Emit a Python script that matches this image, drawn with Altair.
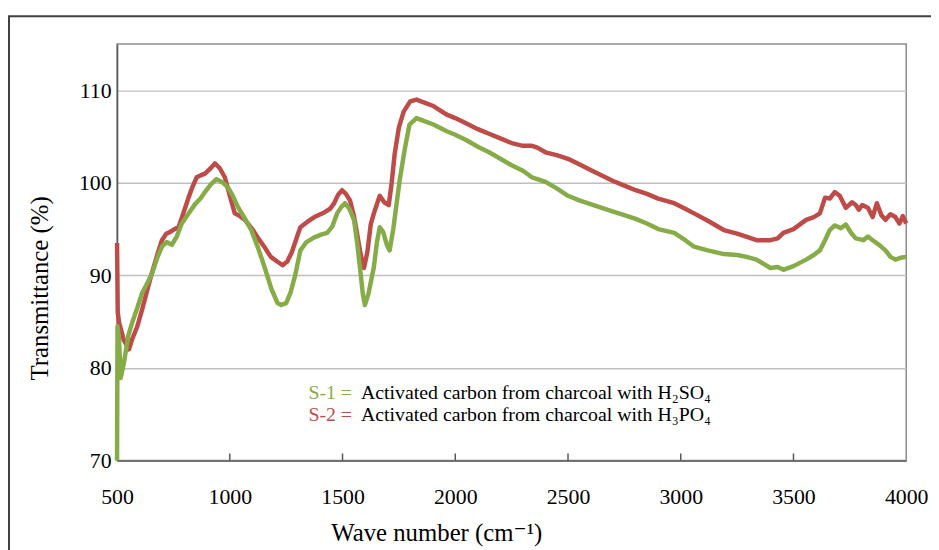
import altair as alt
import pandas as pd

# ---- data ----
wn_s1 = [500, 502, 509, 516, 530, 550, 567, 590, 611, 635, 655, 680, 699, 720, 743, 765, 787, 815, 846,
         870, 890, 915, 941, 965, 992, 1015, 1036, 1065, 1095, 1125, 1154, 1185, 1212, 1228, 1250,
         1269, 1290, 1313, 1340, 1375, 1405, 1432, 1455, 1476, 1495, 1511, 1530, 1551, 1565, 1577, 1590,
         1599, 1615, 1639, 1652, 1665, 1680, 1698, 1709, 1725, 1753, 1775, 1797, 1828, 1860, 1903, 1960,
         2000, 2050, 2100, 2150, 2200, 2250, 2300, 2340, 2364, 2400, 2450, 2500, 2550, 2600, 2650, 2700,
         2750, 2800, 2850, 2900, 2971, 3020, 3059, 3120, 3191, 3250, 3292, 3336, 3398, 3430, 3455, 3500,
         3556, 3590, 3617, 3640, 3661, 3683, 3710, 3732, 3755, 3776, 3810, 3830, 3851, 3880, 3908, 3930,
         3952, 3975, 4000]
t_s1 = [70.0, 84.5, 83.0, 78.9, 80.5, 83.5, 84.9, 86.5, 88.1, 89.2, 90.2, 92.0, 93.1, 93.6, 93.3, 94.2,
        95.6, 96.6, 97.7, 98.3, 99.0, 99.8, 100.4, 100.1, 99.5, 98.5, 97.4, 96.2, 94.9, 93.0, 90.9,
        88.5, 87.0, 86.8, 87.0, 88.1, 90.0, 92.7, 93.6, 94.1, 94.4, 94.6, 95.3, 96.7, 97.4, 97.8, 97.2,
        96.0, 93.5, 90.9, 88.0, 86.8, 88.0, 90.9, 93.5, 95.2, 94.7, 93.2, 92.7, 95.0, 100.2, 103.5, 106.3,
        107.0, 106.7, 106.3, 105.6, 105.2, 104.6, 103.9, 103.3, 102.6, 101.9, 101.3, 100.6, 100.4, 100.1,
        99.4, 98.6, 98.1, 97.7, 97.3, 96.9, 96.5, 96.1, 95.6, 95.0, 94.6, 93.8, 93.1, 92.7, 92.3, 92.2,
        92.0, 91.7, 90.8, 90.9, 90.6, 91.0, 91.7, 92.2, 92.7, 93.8, 94.9, 95.4, 95.1, 95.5, 94.6, 94.0,
        93.8, 94.2, 93.8, 93.3, 92.7, 92.0, 91.7, 91.9, 92.0]

wn_s2 = [500, 503, 509, 530, 553, 567, 590, 611, 635, 655, 678, 699, 718, 736, 755, 773, 795, 817, 835,
         853, 870, 890, 912, 934, 955, 978, 1000, 1022, 1045, 1067, 1100, 1124, 1155, 1182, 1210, 1234,
         1255, 1275, 1300, 1313, 1345, 1375, 1419, 1445, 1463, 1480, 1498, 1515, 1533, 1550, 1564, 1580,
         1595, 1610, 1625, 1639, 1665, 1685, 1705, 1718, 1731, 1750, 1771, 1800, 1828, 1860, 1903, 1960,
         2000, 2050, 2100, 2150, 2200, 2250, 2300, 2340, 2364, 2400, 2450, 2500, 2550, 2600, 2650, 2700,
         2750, 2800, 2850, 2900, 2971, 3020, 3059, 3120, 3191, 3250, 3300, 3336, 3398, 3430, 3455, 3500,
         3556, 3590, 3617, 3640, 3661, 3683, 3705, 3732, 3760, 3776, 3790, 3805, 3830, 3851, 3870, 3890,
         3908, 3930, 3952, 3970, 3985, 4000]
t_s2 = [93.5, 86.0, 84.9, 83.0, 82.0, 83.1, 84.5, 86.3, 88.5, 90.3, 92.2, 93.8, 94.5, 94.7, 95.0, 95.2,
        96.8, 98.4, 99.6, 100.6, 100.8, 101.0, 101.5, 102.1, 101.6, 100.6, 98.6, 96.7, 96.4, 96.0, 95.0,
        94.1, 93.0, 92.0, 91.5, 91.1, 91.5, 92.5, 94.3, 95.2, 95.8, 96.3, 96.8, 97.2, 97.8, 98.7, 99.2,
        98.8, 98.1, 96.5, 94.6, 92.3, 90.8, 92.5, 95.5, 96.7, 98.6, 97.9, 97.6, 100.0, 103.1, 106.0,
        107.7, 108.8, 109.0, 108.7, 108.3, 107.4, 107.0, 106.4, 105.8, 105.3, 104.8, 104.3, 104.0, 104.0,
        103.8, 103.3, 103.0, 102.6, 102.0, 101.4, 100.8, 100.2, 99.7, 99.2, 98.8, 98.3, 97.8, 97.2, 96.7,
        95.9, 94.9, 94.5, 94.1, 93.8, 93.8, 94.0, 94.6, 95.0, 96.0, 96.3, 96.7, 98.4, 98.3, 99.0, 98.6,
        97.3, 97.9, 97.6, 97.1, 97.6, 97.3, 96.3, 97.8, 96.5, 96.0, 96.6, 96.3, 95.6, 96.4, 95.6]

x_ticks = [500, 1000, 1500, 2000, 2500, 3000, 3500, 4000]
y_ticks = [70, 80, 90, 100, 110]
inner_ticks = [1000, 1500, 2000, 2500, 3000, 3500]

legend_keys = ["S-1 =", "S-2 ="]
legend_texts = ["Activated carbon from charcoal with H\u2082SO\u2084",
                "Activated carbon from charcoal with H\u2083PO\u2084"]

GREEN = "#86AC47"
RED = "#BF4B48"
FONT = "Liberation Serif, DejaVu Serif, serif"
LFS = 22   # tick labels
TFS = 25   # axis titles
GFS = 20   # legend text

df1 = pd.DataFrame({"wn": wn_s1, "t": t_s1})
df2 = pd.DataFrame({"wn": wn_s2, "t": t_s2})
dticks = pd.DataFrame({"wn": inner_ticks})

W, H = 796, 420

xscale = alt.Scale(domain=[500, 4000], nice=False, zero=False)
yscale = alt.Scale(domain=[70, 115], nice=False, zero=False)

common = dict(labelFont=FONT, labelFontSize=LFS, labelColor="black",
              titleFont=FONT, titleFontSize=TFS, titleColor="black", titleFontWeight="normal",
              domainColor="#595959", domainWidth=1.5, gridColor="#BFBFBF", gridWidth=1.5,
              ticks=False, tickSize=0, format="d")

xaxis = alt.Axis(values=x_ticks, title="Wave number (cm\u207b\u00b9)", grid=False,
                 labelPadding=43, labelBaseline="alphabetic", labelFlush=False,
                 titleX=322, titleY=81, titleBaseline="alphabetic", titleAlign="center", **common)
yaxis = alt.Axis(values=y_ticks, title="Transmittance (%)", grid=True,
                 labelPadding=6, labelBaseline="middle", labelAlign="right",
                 titleX=-78, titleY=246, titleAngle=270, titleAlign="center", titleBaseline="middle",
                 **common)

base2 = alt.Chart(df2).mark_line(color=RED, strokeWidth=4.5, strokeJoin="round").encode(
    x=alt.X("wn:Q", scale=xscale, axis=xaxis),
    y=alt.Y("t:Q", scale=yscale, axis=yaxis),
)
base1 = alt.Chart(df1).mark_line(color=GREEN, strokeWidth=4.5, strokeJoin="round").encode(
    x=alt.X("wn:Q", scale=xscale),
    y=alt.Y("t:Q", scale=yscale),
)

ticks = alt.Chart(dticks).mark_rule(color="#595959", strokeWidth=1.5).encode(
    x=alt.X("wn:Q", scale=xscale),
    y=alt.value(H),
    y2=alt.value(H - 7),
)

def txt(s, x, y, color):
    return alt.Chart(pd.DataFrame({"a": [0]})).mark_text(
        align="left", baseline="alphabetic", font=FONT, fontSize=GFS, color=color
    ).encode(x=alt.value(x), y=alt.value(y), text=alt.value(s))

legend = (txt(legend_keys[0], 193, 358, GREEN) + txt(legend_texts[0], 246, 358, "black")
          + txt(legend_keys[1], 193, 380, RED) + txt(legend_texts[1], 246, 380, "black"))

one = pd.DataFrame({"a": [0]})
frame_top = alt.Chart(one).mark_rule(color="#404040", strokeWidth=2).encode(
    x=alt.value(-110), x2=alt.value(830), y=alt.value(-28))
frame_left = alt.Chart(one).mark_rule(color="#404040", strokeWidth=2).encode(
    x=alt.value(-109), y=alt.value(-28), y2=alt.value(520))

chart = alt.layer(frame_top, frame_left, base2, base1, ticks, legend).properties(
    width=W, height=H,
    autosize=alt.AutoSizeParams(type="none"),
    padding={"left": 110, "top": 34, "right": 25, "bottom": 88},
).configure_view(
    stroke="#8C8C8C", strokeWidth=1.5
)

chart.save("out.html", embed_options={"renderer": "svg", "actions": False})
